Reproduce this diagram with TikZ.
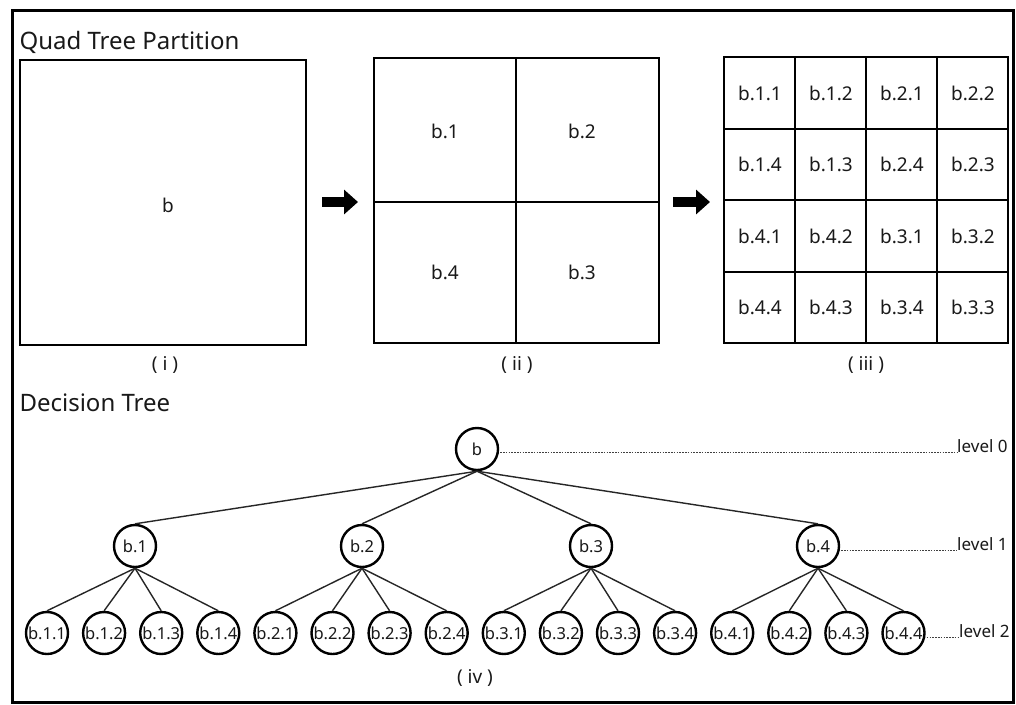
\documentclass[tikz,border=0pt]{standalone}
\usepackage{fontspec}
\setmainfont{Noto Sans}
\usetikzlibrary{arrows.meta,calc}

\tikzset{
  frame/.style={line width=3pt, draw=black},
  bigbox/.style={line width=2.6pt, draw=black},
  midline/.style={line width=2.2pt},
  thinline/.style={line width=1.4pt},
  title/.style={anchor=west, font=\fontsize{24}{28}\selectfont, text=black!90},
  cell/.style={font=\fontsize{19}{22}\selectfont, text=black!90},
  caption/.style={font=\fontsize{19}{22}\selectfont, text=black!90},
  blockarrow/.style={line width=10pt, -{Triangle[length=14pt,width=24pt]}},
  tnode/.style={circle, draw=black, line width=2.4pt, minimum size=42pt, inner sep=0pt,
                font=\fontsize{16.5}{19}\selectfont, text=black!90},
  edge/.style={line width=1.4pt, draw=black!85},
  levelline/.style={line width=0.8pt, draw=black!75, dash pattern=on 1.6pt off 1.2pt},
  levellabel/.style={anchor=base west, font=\fontsize{17}{20}\selectfont, text=black!90, inner sep=0pt},
}
\newcommand{\tl}[1]{\makebox[0pt]{#1}}

\begin{document}
\begin{tikzpicture}[x=1pt,y=-1pt]
\useasboundingbox (0,0) rectangle (1016,704);
\fill[white] (0,0) rectangle (1016,704);
\draw[frame] (12,10) rectangle (1013,702);

% ---------- Quad tree partition ----------
\node[title] (qtitle) at (16,42) {Quad Tree Partition};

% (i) whole block
\draw[bigbox] (20,60) rectangle (306,345);
\node[cell] (b) at (168,205) {b};
\node[caption] (capi) at (165,365) {( i )};

% (ii) four quadrants
\draw[bigbox] (374,58) rectangle (659,343);
\draw[midline] (516,58) -- (516,343);
\draw[midline] (374,202) -- (659,202);
\node[cell] (q1) at (445,131) {b.1};
\node[cell] (q2) at (582,131) {b.2};
\node[cell] (q4) at (445,272) {b.4};
\node[cell] (q3) at (582,272) {b.3};
\node[caption] (capii) at (517,365) {( ii )};

% (iii) sixteen sub-blocks
\draw[thinline] (795,57) -- (795,343);
\draw[thinline] (937,57) -- (937,343);
\draw[thinline] (724,129) -- (1008,129);
\draw[thinline] (724,272) -- (1008,272);
\draw[midline] (866,57) -- (866,343);
\draw[midline] (724,200) -- (1008,200);
\draw[bigbox] (724,57) rectangle (1008,343);
\foreach \lab [count=\i from 0] in {b.1.1,b.1.2,b.2.1,b.2.2,b.1.4,b.1.3,b.2.4,b.2.3,b.4.1,b.4.2,b.3.1,b.3.2,b.4.4,b.4.3,b.3.4,b.3.3}{
  \pgfmathtruncatemacro{\c}{mod(\i,4)}
  \pgfmathtruncatemacro{\r}{div(\i,4)}
  \node[cell] (c\i) at ({760+71*\c},{93+71.5*\r}) {\lab};
}
\node[caption] (capiii) at (866,365) {( iii )};

% arrows between the partitions
\coordinate (a1s) at (322,202);
\coordinate (a1e) at (358,202);
\coordinate (a2s) at (673,202);
\coordinate (a2e) at (710,202);
\draw[blockarrow] (a1s) -- (a1e);
\draw[blockarrow] (a2s) -- (a2e);

% ---------- Decision tree ----------
\node[title] (dtitle) at (16,403) {Decision Tree};

\node[tnode] (r) at (477,449) {\tl{b}};
\foreach \k/\x in {1/135,2/362,3/591,4/818}{
  \node[tnode] (n\k) at (\x,546) {\tl{b.\k}};
  \draw[edge] (r.south) -- (n\k.north);
}
\foreach \k in {1,...,4}{
  \foreach \j in {1,...,4}{
    \pgfmathsetmacro{\xx}{47+57.1*(4*(\k-1)+\j-1)}
    \node[tnode] (n\k\j) at (\xx,633) {\tl{b.\k.\j}};
    \draw[edge] (n\k.south) -- (n\k\j.north);
  }
}

% level markers: dotted guide lines running out to the labels
\coordinate (g0) at ($(r.east)+(1,3)$);
\coordinate (g1) at ($(n4.east)+(1,4)$);
\coordinate (g2) at ($(n44.east)+(1,4)$);
\node[levellabel] (lv0) at (957,452) {level 0};
\node[levellabel] (lv1) at (957,550) {level 1};
\node[levellabel] (lv2) at (959,637) {level 2};
\draw[levelline] (g0) -- (g0 -| lv0.west);
\draw[levelline] (g1) -- (g1 -| lv1.west);
\draw[levelline] (g2) -- (g2 -| lv2.west);

\node[caption] (capiv) at (475,678) {( iv )};
\end{tikzpicture}
\end{document}
